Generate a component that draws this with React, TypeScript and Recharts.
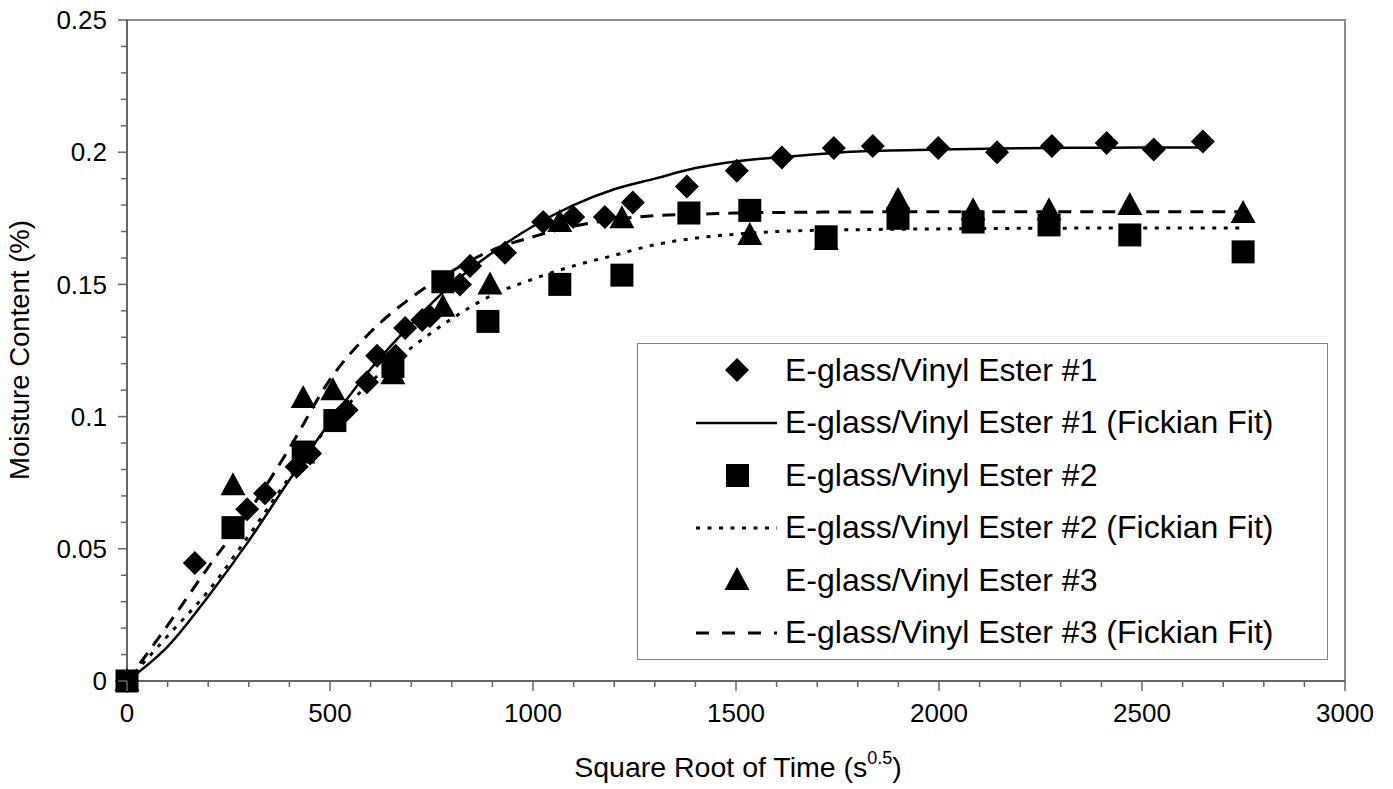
import React from "react";
import {
  ComposedChart,
  Line,
  Scatter,
  XAxis,
  YAxis,
  ReferenceArea,
} from "recharts";

// measured samples, sqrt(s) vs moisture %
const ve1Time = [0, 167, 296, 340, 418, 451, 541, 591, 616, 662, 685, 727, 746, 820, 845, 931, 1025, 1099, 1177, 1246, 1379, 1502, 1613, 1741, 1837, 1998, 2143, 2278, 2413, 2529, 2650];
const ve1Moist = [0, 0.0446, 0.065, 0.071, 0.081, 0.086, 0.1025, 0.113, 0.123, 0.123, 0.1335, 0.1365, 0.138, 0.15, 0.157, 0.162, 0.1736, 0.1755, 0.1755, 0.181, 0.187, 0.193, 0.198, 0.2016, 0.2023, 0.2016, 0.2, 0.2023, 0.2035, 0.201, 0.204];

const ve2Time = [0, 261, 434, 512, 655, 778, 889, 1066, 1219, 1384, 1534, 1722, 1899, 2084, 2271, 2470, 2749];
const ve2Moist = [0, 0.058, 0.0866, 0.0985, 0.119, 0.151, 0.136, 0.15, 0.1535, 0.177, 0.178, 0.168, 0.175, 0.1736, 0.1725, 0.1687, 0.1623];

const ve3Time = [0, 261, 434, 507, 655, 778, 894, 1066, 1219, 1534, 1722, 1899, 2084, 2271, 2470, 2749];
const ve3Moist = [0, 0.074, 0.107, 0.11, 0.116, 0.1415, 0.15, 0.1736, 0.175, 0.1687, 0.1668, 0.182, 0.178, 0.178, 0.18, 0.177];

// fickian fit curves
const fit1Time = [0, 100, 200, 300, 400, 500, 600, 700, 800, 900, 1000, 1100, 1200, 1300, 1400, 1500, 1600, 1800, 2000, 2200, 2400, 2650];
const fit1Moist = [0, 0.013, 0.032, 0.053, 0.076, 0.098, 0.118, 0.135, 0.15, 0.162, 0.172, 0.18, 0.186, 0.19, 0.194, 0.1965, 0.198, 0.2003, 0.201, 0.2015, 0.2017, 0.2018];

const fit2Time = [0, 100, 200, 300, 400, 500, 600, 700, 800, 900, 1000, 1100, 1200, 1300, 1400, 1500, 1600, 1800, 2000, 2200, 2400, 2740];
const fit2Moist = [0, 0.017, 0.034, 0.055, 0.077, 0.097, 0.113, 0.126, 0.137, 0.146, 0.152, 0.157, 0.161, 0.165, 0.1675, 0.169, 0.17, 0.1707, 0.171, 0.1712, 0.1713, 0.1713];

const fit3Time = [0, 100, 200, 300, 400, 500, 600, 700, 800, 900, 1000, 1100, 1200, 1300, 1400, 1500, 1600, 1800, 2000, 2200, 2400, 2740];
const fit3Moist = [0, 0.021, 0.043, 0.064, 0.088, 0.114, 0.132, 0.145, 0.155, 0.163, 0.168, 0.172, 0.1745, 0.176, 0.1765, 0.177, 0.1772, 0.1774, 0.1775, 0.1775, 0.1775, 0.1775];

const seriesNames = [
  "E-glass/Vinyl Ester #1",
  "E-glass/Vinyl Ester #1 (Fickian Fit)",
  "E-glass/Vinyl Ester #2",
  "E-glass/Vinyl Ester #2 (Fickian Fit)",
  "E-glass/Vinyl Ester #3",
  "E-glass/Vinyl Ester #3 (Fickian Fit)",
];

const xTickLabels = ["0", "500", "1000", "1500", "2000", "2500", "3000"];
const yTickLabels = ["0", "0.05", "0.1", "0.15", "0.2", "0.25"];

const toPoints = (t: number[], m: number[]) => t.map((v, i) => ({ t: v, m: m[i] }));

const ve1 = toPoints(ve1Time, ve1Moist);
const ve2 = toPoints(ve2Time, ve2Moist);
const ve3 = toPoints(ve3Time, ve3Moist);
const fit1 = toPoints(fit1Time, fit1Moist);
const fit2 = toPoints(fit2Time, fit2Moist);
const fit3 = toPoints(fit3Time, fit3Moist);

const xTicks = Array.from({ length: 31 }, (_, i) => i * 100);
const yTicks = Array.from({ length: 26 }, (_, i) => i / 100);

const FONT = "'Liberation Sans', Arial, sans-serif";
const AXIS = "#666";

const Diamond = (p: any) => (
  <polygon
    points={`${p.cx},${p.cy - 12} ${p.cx + 12},${p.cy} ${p.cx},${p.cy + 12} ${p.cx - 12},${p.cy}`}
    fill="#000"
  />
);
const Square = (p: any) => (
  <rect x={p.cx - 11.5} y={p.cy - 11.5} width={23} height={23} fill="#000" />
);
const Triangle = (p: any) => (
  <polygon
    points={`${p.cx},${p.cy - 13} ${p.cx + 12.5},${p.cy + 10} ${p.cx - 12.5},${p.cy + 10}`}
    fill="#000"
  />
);

const XTick = ({ x, y, payload }: any) => {
  const v = payload.value;
  const idx = v % 500 === 0 ? v / 500 : -1;
  return (
    <g>
      <line x1={x} x2={x} y1={y} y2={y + (idx >= 0 ? 10 : 6)} stroke={AXIS} strokeWidth={1.5} />
      {idx >= 0 && (
        <text x={x} y={y + 41} textAnchor="middle" fontSize={26} fontFamily={FONT} fill="#000">
          {xTickLabels[idx]}
        </text>
      )}
    </g>
  );
};

const YTick = ({ x, y, payload }: any) => {
  const n = Math.round(payload.value * 100);
  const idx = n % 5 === 0 ? n / 5 : -1;
  return (
    <g>
      <line x1={x - (idx >= 0 ? 9 : 6)} x2={x} y1={y} y2={y} stroke={AXIS} strokeWidth={1.5} />
      {idx >= 0 && (
        <text x={x - 20} y={y} dy="0.35em" textAnchor="end" fontSize={26} fontFamily={FONT} fill="#000">
          {yTickLabels[idx]}
        </text>
      )}
    </g>
  );
};

const XTitle = () => (
  <text x={738} y={777} textAnchor="middle" fontSize={28.5} fontFamily={FONT} fill="#000">
    Square Root of Time (s
    <tspan fontSize={18} dy={-13}>0.5</tspan>
    <tspan dy={13}>)</tspan>
  </text>
);

const YTitle = () => (
  <text
    x={0}
    y={0}
    transform="translate(29,350) rotate(-90)"
    textAnchor="middle"
    fontSize={27.5}
    fontFamily={FONT}
    fill="#000"
  >
    Moisture Content (%)
  </text>
);

const legendSymbols = [
  <polygon points="41,15 53,27 41,39 29,27" fill="#000" />,
  <line x1={0} x2={81} y1={27} y2={27} stroke="#000" strokeWidth={2.5} />,
  <rect x={30} y={16} width={23} height={23} fill="#000" />,
  <line x1={0} x2={81} y1={27} y2={27} stroke="#000" strokeWidth={3} strokeDasharray="4 7.5" />,
  <polygon points="41,14 53.5,37 28.5,37" fill="#000" />,
  <line x1={0} x2={81} y1={27} y2={27} stroke="#000" strokeWidth={3} strokeDasharray="13 13" />,
];

const ChartLegend = () => (
  <div
    style={{
      position: "absolute",
      left: 637,
      top: 343,
      width: 691,
      height: 317,
      border: "1.5px solid #808080",
      boxSizing: "border-box",
      background: "#fff",
      fontFamily: FONT,
      fontSize: 32,
    }}
  >
    {seriesNames.map((name, i) => (
      <div key={name} style={{ height: 52.5, display: "flex", alignItems: "center" }}>
        <svg width={81} height={54} style={{ marginLeft: 58, flex: "none" }}>
          {legendSymbols[i]}
        </svg>
        <span style={{ marginLeft: 8, whiteSpace: "nowrap" }}>{name}</span>
      </div>
    ))}
  </div>
);

export default function App() {
  return (
    <div style={{ position: "relative", width: 1393, height: 789, background: "#fff" }}>
      <style>{"body{margin:0}"}</style>
      <ComposedChart
        width={1393}
        height={789}
        margin={{ top: 20, right: 48, bottom: 0, left: 0 }}
      >
        <XAxis
          type="number"
          dataKey="t"
          domain={[0, 3000]}
          ticks={xTicks}
          interval={0}
          tick={<XTick />}
          tickLine={false}
          tickSize={0}
          tickMargin={0}
          height={108}
          stroke={AXIS}
          strokeWidth={2}
        />
        <YAxis
          type="number"
          dataKey="m"
          domain={[0, 0.25]}
          ticks={yTicks}
          interval={0}
          tick={<YTick />}
          tickLine={false}
          tickSize={0}
          tickMargin={0}
          width={127}
          stroke={AXIS}
          strokeWidth={2}
        />
        <ReferenceArea x1={0} x2={3000} y1={0} y2={0.25} fill="none" stroke="#8a8a8a" strokeWidth={2} />
        <Line data={fit1} dataKey="m" type="monotone" stroke="#000" strokeWidth={2.5} dot={false} isAnimationActive={false} />
        <Line data={fit2} dataKey="m" type="monotone" stroke="#000" strokeWidth={3} strokeDasharray="4 7.5" dot={false} isAnimationActive={false} />
        <Line data={fit3} dataKey="m" type="monotone" stroke="#000" strokeWidth={3} strokeDasharray="13 9" dot={false} isAnimationActive={false} />
        <Scatter data={ve3} shape={Triangle} isAnimationActive={false} />
        <Scatter data={ve2} shape={Square} isAnimationActive={false} />
        <Scatter data={ve1} shape={Diamond} isAnimationActive={false} />
      </ComposedChart>
      <svg width={1393} height={789} style={{ position: "absolute", left: 0, top: 0, pointerEvents: "none" }}>
        <XTitle />
        <YTitle />
      </svg>
      <ChartLegend />
    </div>
  );
}
